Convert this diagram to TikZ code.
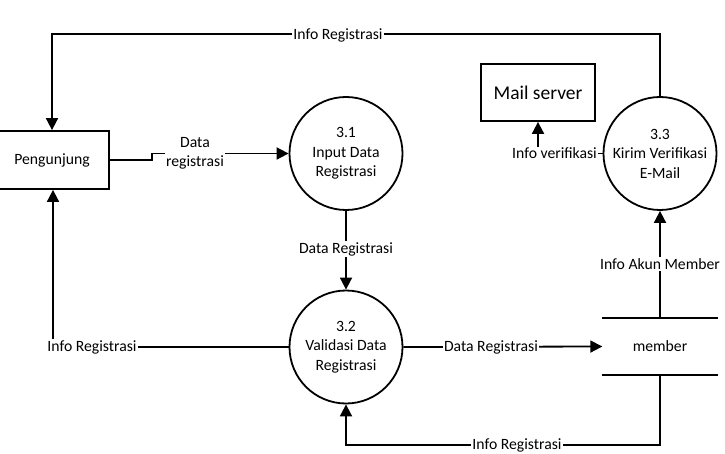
\documentclass[tikz,border=0pt]{standalone}
\usepackage{fontspec}
\setmainfont{Carlito}
\usetikzlibrary{arrows.meta}
\begin{document}
\begin{tikzpicture}[x=1pt,y=-1pt,
  every node/.style={font=\fontsize{15.7}{19.5}\selectfont},
  ln/.style={line width=1.8pt},
  arr/.style={ln,-{Triangle[length=12pt,width=12pt]}},
  proc/.style={draw,circle,line width=1.8pt,minimum size=113pt,inner sep=0pt,align=center},
  ent/.style={draw,rectangle,line width=1.8pt,inner sep=0pt},
  lbl/.style={fill=white,inner sep=1pt,align=center}]
\useasboundingbox (0,0) rectangle (725,454);
\clip (0,0) rectangle (725,454);
\node[ent,minimum width=114pt,minimum height=58pt] (peng) at (52,160) {Pengunjung};
\node[ent,minimum width=114pt,minimum height=57pt,font=\fontsize{19.5}{22}\selectfont] (mail) at (538,92.5) {Mail server};
\node[proc] (c1) at (346,153.5) {3.1\\Input Data\\Registrasi};
\node[proc] (c2) at (346,347) {3.2\\Validasi Data\\Registrasi};
\node[proc] (c3) at (660,153.5) {3.3\\Kirim Verifikasi\\E-Mail};
\node[minimum width=115pt,minimum height=57pt,inner sep=0pt] (mem) at (660,346.5) {member};
\draw[ln] (mem.north west) -- (mem.north east);
\draw[ln] (mem.south west) -- (mem.south east);
% connectors
\draw[arr] (c3.north) -- ++(0,-62) -| (peng.north);
\draw[arr] (peng.east) -- (152,160) -- (152,153.5) -- (c1.west);
\draw[arr] (c1.south) -- (c2.north);
\draw[arr] (c2.west) -- (53,347) -- (peng.south -| 53,0);
\draw[arr] (c2.east) -- (mem.west);
\draw[arr] (mem.south) -- (660,445) -| (c2.south);
\draw[arr] (mem.north) -- (c3.south);
\draw[arr] (c3.west) -- (538,153.5) -- (mail.south);
% labels
\node[lbl] (l1) at (338,35) {Info Registrasi};
\node[lbl] (l2) at (195,153.5) {Data\\registrasi};
\node[lbl] (l3) at (346,249) {Data Registrasi};
\node[lbl] (l4) at (92,347) {Info Registrasi};
\node[lbl] (l5) at (491,347) {Data Registrasi};
\node[lbl] (l6) at (517,445) {Info Registrasi};
\node[lbl] (l7) at (660,264) {Info Akun Member};
\node[lbl] (l8) at (554.5,153.5) {Info verifikasi};
\end{tikzpicture}
\end{document}
